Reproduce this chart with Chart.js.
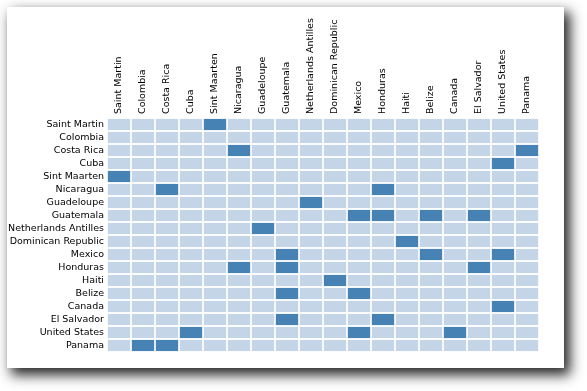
<!DOCTYPE html>
<html lang="en">

<head>
    <meta charset="UTF-8">
    <title>Neighbouring Countries</title>
    <script src="https://cdn.jsdelivr.net/npm/chart.js"></script>
    <style>
        body {
            margin: 0;
            background: #fff;
        }

        .card {
            position: absolute;
            left: 7px;
            top: 7px;
            width: 557px;
            height: 361px;
            background: #fff;
            box-shadow: 5px 6px 12px 1px rgba(0, 0, 0, 0.85);
        }

        canvas {
            display: block;
        }
    </style>
</head>

<body>
    <div class="card">
        <canvas id="chart" width="557" height="361"></canvas>
    </div>

    <script>
        const countries = ["Saint Martin", "Colombia", "Costa Rica", "Cuba", "Sint Maarten", "Nicaragua",
            "Guadeloupe", "Guatemala", "Netherlands Antilles", "Dominican Republic", "Mexico", "Honduras",
            "Haiti", "Belize", "Canada", "El Salvador", "United States", "Panama"];

        // 1 = the row country borders the column country
        const links = [
            [0, 0, 0, 0, 1, 0, 0, 0, 0, 0, 0, 0, 0, 0, 0, 0, 0, 0],
            [0, 0, 0, 0, 0, 0, 0, 0, 0, 0, 0, 0, 0, 0, 0, 0, 0, 0],
            [0, 0, 0, 0, 0, 1, 0, 0, 0, 0, 0, 0, 0, 0, 0, 0, 0, 1],
            [0, 0, 0, 0, 0, 0, 0, 0, 0, 0, 0, 0, 0, 0, 0, 0, 1, 0],
            [1, 0, 0, 0, 0, 0, 0, 0, 0, 0, 0, 0, 0, 0, 0, 0, 0, 0],
            [0, 0, 1, 0, 0, 0, 0, 0, 0, 0, 0, 1, 0, 0, 0, 0, 0, 0],
            [0, 0, 0, 0, 0, 0, 0, 0, 1, 0, 0, 0, 0, 0, 0, 0, 0, 0],
            [0, 0, 0, 0, 0, 0, 0, 0, 0, 0, 1, 1, 0, 1, 0, 1, 0, 0],
            [0, 0, 0, 0, 0, 0, 1, 0, 0, 0, 0, 0, 0, 0, 0, 0, 0, 0],
            [0, 0, 0, 0, 0, 0, 0, 0, 0, 0, 0, 0, 1, 0, 0, 0, 0, 0],
            [0, 0, 0, 0, 0, 0, 0, 1, 0, 0, 0, 0, 0, 1, 0, 0, 1, 0],
            [0, 0, 0, 0, 0, 1, 0, 1, 0, 0, 0, 0, 0, 0, 0, 1, 0, 0],
            [0, 0, 0, 0, 0, 0, 0, 0, 0, 1, 0, 0, 0, 0, 0, 0, 0, 0],
            [0, 0, 0, 0, 0, 0, 0, 1, 0, 0, 1, 0, 0, 0, 0, 0, 0, 0],
            [0, 0, 0, 0, 0, 0, 0, 0, 0, 0, 0, 0, 0, 0, 0, 0, 1, 0],
            [0, 0, 0, 0, 0, 0, 0, 1, 0, 0, 0, 1, 0, 0, 0, 0, 0, 0],
            [0, 0, 0, 1, 0, 0, 0, 0, 0, 0, 1, 0, 0, 0, 1, 0, 0, 0],
            [0, 1, 1, 0, 0, 0, 0, 0, 0, 0, 0, 0, 0, 0, 0, 0, 0, 0]
        ];

        const ON = '#4682b4';
        const OFF = '#c3d5e6';
        const half = 0.43;

        // one floating-bar dataset per row
        const datasets = links.map((row, i) => ({
            data: row.map(() => [i - half, i + half]),
            backgroundColor: row.map(v => v ? ON : OFF),
            borderWidth: 0,
            grouped: false,
            categoryPercentage: 1,
            barPercentage: 0.93
        }));

        const font = {
            family: "'DejaVu Sans', sans-serif",
            size: 9.5
        };

        new Chart(document.getElementById('chart'), {
            type: 'bar',
            data: {
                labels: countries,
                datasets: datasets
            },
            options: {
                responsive: false,
                animation: false,
                layout: {
                    padding: { left: 0, top: 0, right: 25, bottom: 16 }
                },
                plugins: {
                    legend: { display: false },
                    tooltip: { enabled: false }
                },
                scales: {
                    x: {
                        type: 'category',
                        position: 'top',
                        grid: { display: false, drawTicks: false, tickLength: 0 },
                        border: { display: false },
                        ticks: {
                            color: '#000',
                            font: font,
                            padding: 4,
                            autoSkip: false,
                            minRotation: 90,
                            maxRotation: 90,
                            // rotated labels sit a line-height left of the tick
                            labelOffset: 11.4
                        },
                        afterFit: s => { s.height = 111; }
                    },
                    y: {
                        type: 'linear',
                        reverse: true,
                        min: -0.5,
                        max: 17.5,
                        grid: { display: false, drawTicks: false, tickLength: 0 },
                        border: { display: false },
                        afterBuildTicks: s => {
                            s.ticks = countries.map((c, i) => ({ value: i }));
                        },
                        ticks: {
                            color: '#000',
                            font: font,
                            padding: 3,
                            autoSkip: false,
                            callback: v => countries[v]
                        },
                        afterFit: s => { s.width = 100; }
                    }
                }
            }
        });
    </script>
</body>

</html>
